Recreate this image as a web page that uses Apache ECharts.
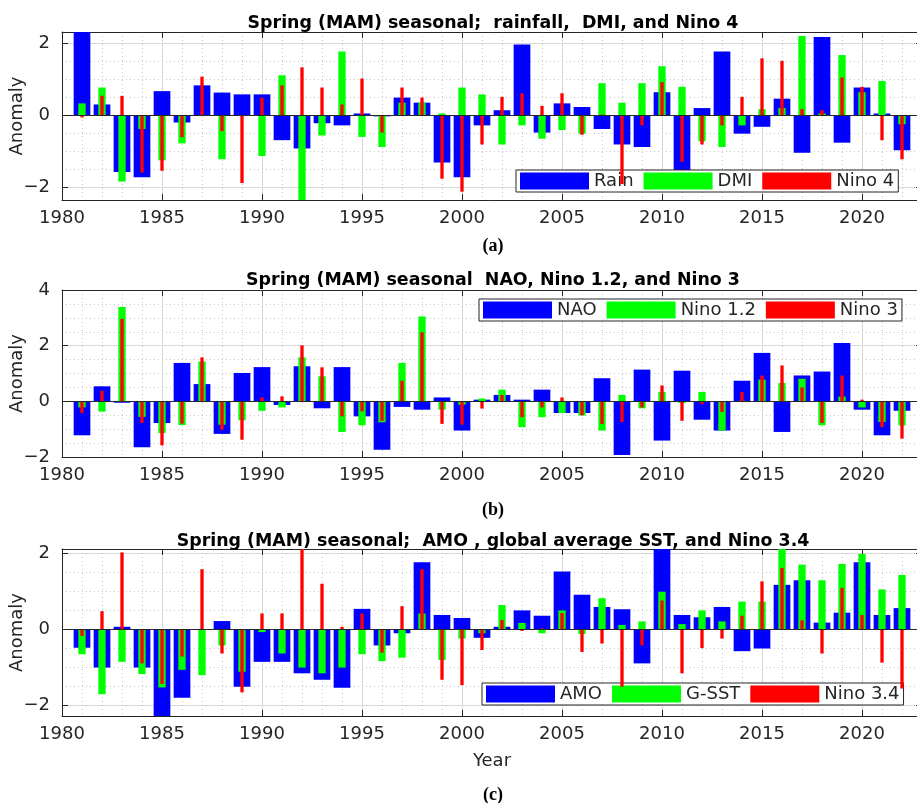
<!DOCTYPE html>
<html><head><meta charset="utf-8">
<script src="https://cdn.jsdelivr.net/npm/echarts@6/dist/echarts.min.js"></script>
<style>html,body{margin:0;padding:0;background:#fff}#c{width:917px;height:803px}</style>
</head><body><div id="c"></div><script>
// x axis categories (1980 .. 2023), bars for 1981..2022
const axisYears = ['1980','1981','1982','1983','1984','1985','1986','1987','1988','1989','1990','1991','1992','1993','1994','1995','1996','1997','1998','1999','2000','2001','2002','2003','2004','2005','2006','2007','2008','2009','2010','2011','2012','2013','2014','2015','2016','2017','2018','2019','2020','2021','2022','2023'];
const years = ['1981','1982','1983','1984','1985','1986','1987','1988','1989','1990','1991','1992','1993','1994','1995','1996','1997','1998','1999','2000','2001','2002','2003','2004','2005','2006','2007','2008','2009','2010','2011','2012','2013','2014','2015','2016','2017','2018','2019','2020','2021','2022'];
const xTickLabels = ['1980','1985','1990','1995','2000','2005','2010','2015','2020'];

// Panel (a)
const rain  = [2.6,0.31,-1.56,-1.71,0.68,-0.19,0.84,0.64,0.59,0.59,-0.68,-0.91,-0.21,-0.27,0.06,-0.02,0.5,0.36,-1.3,-1.71,-0.27,0.15,1.97,-0.47,0.34,0.24,-0.37,-0.8,-0.87,0.65,-1.56,0.21,1.78,-0.5,-0.31,0.47,-1.03,2.18,-0.75,0.78,0.06,-0.96];
const dmi   = [0.34,0.78,-1.83,-0.37,-1.24,-0.77,0.02,-1.21,0.0,-1.12,1.12,-2.45,-0.55,1.78,-0.59,-0.87,0.36,0.36,0.06,0.78,0.59,-0.8,-0.27,-0.64,-0.4,-0.5,0.9,0.36,0.9,1.37,0.8,-0.71,-0.87,-0.27,0.18,0.21,2.21,0.06,1.68,0.65,0.96,-0.24];
const nino4 = [-0.05,0.55,0.55,-1.58,-1.53,-0.6,1.08,-0.43,-1.87,0.5,0.84,1.34,0.78,0.31,1.03,-0.47,0.78,0.5,-1.75,-2.11,-0.8,0.52,0.62,0.27,0.62,-0.53,0.03,-1.9,-0.27,0.93,-1.28,-0.8,-0.27,0.52,1.59,1.52,0.18,0.15,1.06,0.8,-0.68,-1.21];

// Panel (b)
const nao    = [-1.22,0.54,-0.05,-1.65,-0.78,1.38,0.62,-1.17,1.02,1.23,-0.13,1.26,-0.25,1.23,-0.54,-1.74,-0.2,-0.3,0.14,-1.05,0.06,0.23,0.06,0.42,-0.42,-0.42,0.83,-1.93,1.14,-1.41,1.1,-0.66,-1.05,0.74,1.74,-1.1,0.93,1.07,2.1,-0.3,-1.22,-0.34];
const nino12 = [-0.22,-0.37,3.39,-0.56,-1.14,-0.85,1.43,-0.84,-0.68,-0.34,-0.22,1.58,0.9,-1.1,-0.86,-0.75,1.38,3.05,-0.3,-0.12,0.1,0.42,-0.93,-0.57,-0.42,-0.51,-1.05,0.23,-0.25,0.34,-0.06,0.34,-1.05,0.02,0.78,0.66,0.81,-0.86,0.17,-0.22,-0.74,-0.87];
const nino3  = [-0.42,0.38,2.96,-0.78,-1.58,-0.8,1.58,-1.02,-1.38,0.14,0.18,2.01,1.22,-0.54,-0.36,-0.7,0.74,2.48,-0.81,-0.84,-0.26,0.23,-0.57,-0.22,0.14,-0.5,-0.81,-0.74,-0.22,0.57,-0.7,-0.1,-0.38,0.34,0.93,1.29,0.5,-0.78,0.93,0.06,-0.93,-1.34];

// Panel (c)
const amo    = [-0.48,-1.0,0.07,-1.0,-2.4,-1.79,0.01,0.22,-1.5,-0.85,-0.85,-1.15,-1.32,-1.53,0.54,-0.42,-0.1,1.76,0.38,0.3,-0.22,0.07,0.5,0.36,1.52,0.91,0.59,0.53,-0.89,2.4,0.38,0.32,0.59,-0.57,-0.5,1.17,1.29,0.18,0.44,1.76,0.38,0.56];
const gsst   = [-0.65,-1.7,-0.85,-1.17,-1.52,-1.06,-1.2,-0.42,-1.11,-0.07,-0.63,-1.0,-1.15,-1.0,-0.65,-0.83,-0.74,0.42,-0.8,-0.24,-0.1,0.64,0.17,-0.1,0.5,-0.12,0.82,0.12,0.21,0.99,0.14,0.5,0.21,0.73,0.73,2.25,1.7,1.29,1.72,1.98,1.05,1.43];
const nino34 = [-0.17,0.48,2.02,-0.89,-1.43,-0.71,1.58,-0.63,-1.65,0.42,0.42,2.3,1.2,0.07,0.42,-0.61,0.61,1.58,-1.32,-1.46,-0.54,0.25,-0.04,0.03,0.43,-0.59,-0.37,-1.5,-0.42,0.76,-1.15,-0.49,-0.24,0.36,1.26,1.61,0.24,-0.63,1.09,0.38,-0.87,-1.55];

const titles = ['Spring (MAM) seasonal;  rainfall,  DMI, and Nino 4',
                'Spring (MAM) seasonal  NAO, Nino 1.2, and Nino 3',
                'Spring (MAM) seasonal;  AMO , global average SST, and Nino 3.4'];
const panelLabels = ['(a)','(b)','(c)'];
const seriesNames = [['Rain','DMI','Nino 4'],['NAO','Nino 1.2','Nino 3'],['AMO','G-SST','Nino 3.4']];
const seriesData = [[rain,dmi,nino4],[nao,nino12,nino3],[amo,gsst,nino34]];
const yMin = [-2.34,-2,-2.27];
const yMax = [2.32,4,2.11];

// layout (styling)
const FONT = 'DejaVu Sans';
const AX = '#262626';
const gridTops = [32,290,549];
const gridH = [168,167,167];
const titleTops = [10,267,528];
const labelTops = [232,496,781];
const legendPos = [{left:516,top:170},{left:479,top:299},{left:482,top:683}];
const colors = ['#0000ff','#00ff00','#ff0000'];
const widths = [16.7,7.3,3.3];

const fmt = v => (Math.abs(v) < 1e-9 ? '0' : (v < 0 ? '\u2212' + Math.abs(v) : String(v)));
const isMajor = (idx, val) => xTickLabels.indexOf(String(val)) >= 0;

const option = {animation:false, backgroundColor:'#fff', title:[], grid:[], xAxis:[], yAxis:[], legend:[], series:[]};

for (let p=0;p<3;p++){
  option.title.push({text:titles[p], left:488, top:titleTops[p], textAlign:'center',
    textStyle:{fontFamily:FONT, fontWeight:'bold', fontSize:17.4, color:'#000'}});
  option.title.push({text:panelLabels[p], left:488, top:labelTops[p], textAlign:'center',
    textStyle:{fontFamily:'Liberation Serif', fontWeight:'bold', fontSize:18, color:'#000'}});
  option.grid.push({left:62, width:860, top:gridTops[p], height:gridH[p], show:false,
    containLabel:false, outerBoundsMode:'none'});
  const base = p*3;
  // main bottom x (bars: blue)
  option.xAxis.push({type:'category', data:axisYears, boundaryGap:false, gridIndex:p, position:'bottom',
    axisLine:{show:true, onZero:false, lineStyle:{color:AX}},
    axisTick:{show:true, inside:true, length:6, interval:isMajor, lineStyle:{color:AX}},
    axisLabel:{show:true, margin:9, interval:isMajor, fontFamily:FONT, fontSize:18, color:AX, hideOverlap:false},
    splitLine:{show:true, interval:isMajor, lineStyle:{color:'#dedede', width:1}},
    name: p===2 ? 'Year' : '', nameLocation:'middle', nameGap:36, nameMoveOverlap:false,
    nameTextStyle:{fontFamily:FONT, fontSize:18, color:AX}});
  // minor x (dotted grid, bars: green)
  option.xAxis.push({type:'category', data:axisYears, boundaryGap:false, gridIndex:p, position:'bottom',
    axisLine:{show:false, onZero:false}, axisTick:{show:false}, axisLabel:{show:false},
    splitLine:{show:true, interval:0, lineStyle:{color:'#c4c4c4', type:[1,3], width:1}}});
  // top x (ticks, bars: red)
  option.xAxis.push({type:'category', data:axisYears, boundaryGap:false, gridIndex:p, position:'top',
    axisLine:{show:true, onZero:false, lineStyle:{color:AX}},
    axisTick:{show:true, inside:true, length:6, interval:isMajor, lineStyle:{color:AX}},
    axisLabel:{show:false}, splitLine:{show:false}});
  // main left y
  option.yAxis.push({type:'value', gridIndex:p, min:yMin[p], max:yMax[p], minInterval:2, maxInterval:2, position:'left',
    axisLine:{show:true, onZero:false, lineStyle:{color:AX}},
    axisTick:{show:true, inside:true, length:6, lineStyle:{color:AX}},
    axisLabel:{show:true, margin:12, fontFamily:FONT, fontSize:18, color:AX, formatter:fmt,
      showMinLabel: p===1, showMaxLabel: p===1},
    splitLine:{show:true, lineStyle:{color:'#dedede', width:1}},
    name:'Anomaly', nameLocation:'middle', nameGap:36, nameRotate:90, nameMoveOverlap:false,
    nameTextStyle:{fontFamily:FONT, fontSize:18, color:AX}});
  // minor y (dotted grid)
  option.yAxis.push({type:'value', gridIndex:p, min:yMin[p], max:yMax[p], minInterval:0.5, maxInterval:0.5, position:'left',
    axisLine:{show:false}, axisTick:{show:false}, axisLabel:{show:false},
    splitLine:{show:true, lineStyle:{color:'#c4c4c4', type:[1,3], width:1}}});
  // right y
  option.yAxis.push({type:'value', gridIndex:p, min:yMin[p], max:yMax[p], minInterval:2, maxInterval:2, position:'right',
    axisLine:{show:true, onZero:false, lineStyle:{color:AX}},
    axisTick:{show:true, inside:true, length:6, lineStyle:{color:AX}},
    axisLabel:{show:false}, splitLine:{show:false}});

  option.legend.push({data:seriesNames[p], left:legendPos[p].left, top:legendPos[p].top, orient:'horizontal',
    selectedMode:false, itemWidth:69, itemHeight:17, itemGap:10, icon:'rect',
    padding:[2,4,2,4], borderColor:AX, borderWidth:1, backgroundColor:'#fff',
    textStyle:{fontFamily:FONT, fontSize:18, color:AX}});

  for (let s=0;s<3;s++){
    const ser = {type:'bar', name:seriesNames[p][s], xAxisIndex:base+s, yAxisIndex:base,
      data: years.map((y,i)=>[y, seriesData[p][s][i]]),
      barWidth:widths[s], clip:true, itemStyle:{color:colors[s]}, z:2+s, silent:true};
    if (s===2){
      ser.markLine = {silent:true, symbol:'none', label:{show:false}, animation:false,
        lineStyle:{color:AX, type:'solid', width:1}, data:[{yAxis:0}]};
    }
    option.series.push(ser);
  }
}
const chart = echarts.init(document.getElementById('c'), null, {renderer:'canvas'});
chart.setOption(option);
</script></body></html>
